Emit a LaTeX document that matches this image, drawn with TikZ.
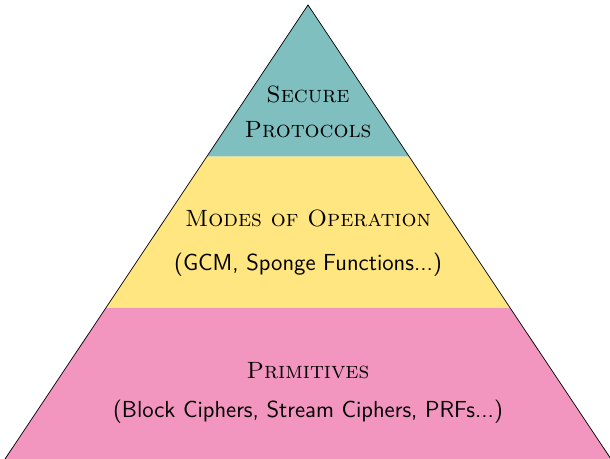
\documentclass[tikz,border=0pt]{standalone}
\usetikzlibrary{calc}

\definecolor{toplayer}{RGB}{128,191,191}
\definecolor{midlayer}{RGB}{255,230,128}
\definecolor{baselayer}{RGB}{242,150,192}

\begin{document}
\begin{tikzpicture}[x=0.02cm,y=-0.02cm,every node/.append style={align=center},
  layer/.style={font=\fontsize{13.4}{20}\selectfont\scshape},
  examples/.style={font=\fontsize{13.2}{15}\selectfont\sffamily}]
    \useasboundingbox (0,0) rectangle (610,459);
    \coordinate (apex) at (308,5);
    \coordinate (bl) at (5,459);
    \coordinate (br) at (611,459);
    % the three bands
    \fill[baselayer] ($(apex)!2/3!(bl)$) -- (bl) -- (br) -- ($(apex)!2/3!(br)$) -- cycle;
    \fill[midlayer] ($(apex)!1/3!(bl)$) -- ($(apex)!2/3!(bl)$) -- ($(apex)!2/3!(br)$) -- ($(apex)!1/3!(br)$) -- cycle;
    \fill[toplayer] (apex) -- ($(apex)!1/3!(bl)$) -- ($(apex)!1/3!(br)$) -- cycle;
    \draw (bl) -- (apex) -- (br);
    % labels
    \node [layer] (proto) at (308,112) {Secure\\Protocols};
    \node [layer] (modes) at (308,218) {Modes of Operation};
    \node [examples] (modesex) at (308,265) {(GCM, Sponge Functions...)};
    \node [layer] (prim) at (308,371) {Primitives};
    \node [examples] (primex) at (308,412) {(Block Ciphers, Stream Ciphers, PRFs...)};
\end{tikzpicture}
\end{document}
